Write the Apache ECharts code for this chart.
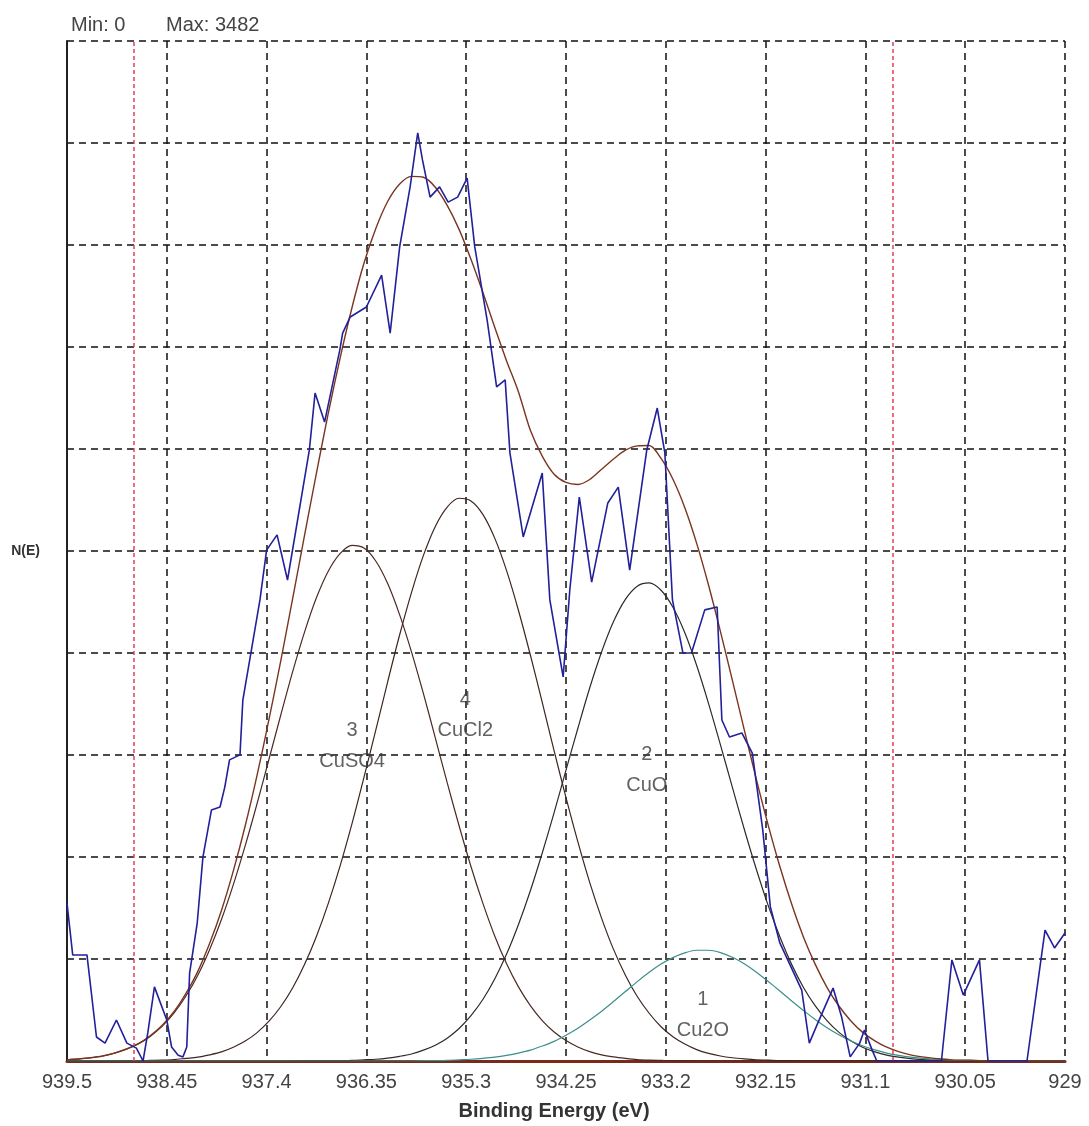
<!DOCTYPE html>
<html>
<head>
<meta charset="utf-8">
<script src="https://cdn.jsdelivr.net/npm/echarts@6/dist/echarts.min.js"></script>
<style>
  html, body { margin: 0; padding: 0; background: #fff; }
  #chart { width: 1089px; height: 1126px; }
</style>
</head>
<body>
<div id="chart"></div>
<script>
// ---------- data ----------
const yMin = 0;
const yMax = 3482;
const xTicks = [939.5, 938.45, 937.4, 936.35, 935.3, 934.25, 933.2, 932.15, 931.1, 930.05, 929];
const refLines = [938.8, 930.81];

// raw spectrum (blue)
const dataE = [939.50,939.44,939.29,939.19,939.10,938.98,938.87,938.77,938.70,938.65,938.58,938.45,938.40,938.33,938.28,938.24,938.21,938.13,938.07,937.98,937.89,937.84,937.79,937.68,937.65,937.56,937.47,937.40,937.29,937.18,936.95,936.89,936.79,936.63,936.60,936.52,936.35,936.19,936.10,936.00,935.89,935.81,935.76,935.68,935.58,935.49,935.39,935.29,935.21,935.08,934.98,934.89,934.84,934.70,934.50,934.42,934.28,934.21,934.11,933.98,933.81,933.70,933.58,933.40,933.29,933.21,933.13,933.02,932.93,932.79,932.66,932.61,932.53,932.40,932.29,932.18,932.10,932.00,931.77,931.69,931.60,931.44,931.35,931.26,931.16,931.11,931.03,930.98,930.30,930.19,930.07,929.90,929.81,929.40,929.21,929.11,929.00];
const dataN = [539,362,362,82,61,140,61,44,0,96,253,140,48,20,14,48,300,471,696,857,867,935,1028,1045,1232,1403,1574,1744,1796,1642,2086,2280,2181,2427,2485,2540,2574,2683,2485,2779,2984,3168,3076,2949,2984,2932,2949,3014,2779,2530,2301,2325,2076,1789,2007,1574,1311,1608,1925,1635,1905,1959,1676,2086,2229,2076,1574,1393,1393,1540,1550,1164,1106,1120,1051,789,526,403,242,61,130,249,150,14,61,106,38,0,0,345,225,345,0,0,447,386,437];

// fitted components, sampled every 0.125 eV
const fitE = [939.5,939.375,939.25,939.125,939.0,938.875,938.75,938.625,938.5,938.375,938.25,938.125,938.0,937.875,937.75,937.625,937.5,937.375,937.25,937.125,937.0,936.875,936.75,936.625,936.5,936.375,936.25,936.125,936.0,935.875,935.75,935.625,935.5,935.375,935.25,935.125,935.0,934.875,934.75,934.625,934.5,934.375,934.25,934.125,934.0,933.875,933.75,933.625,933.5,933.375,933.25,933.125,933.0,932.875,932.75,932.625,932.5,932.375,932.25,932.125,932.0,931.875,931.75,931.625,931.5,931.375,931.25,931.125,931.0,930.875,930.75,930.625,930.5,930.375,930.25,930.125,930.0,929.875,929.75,929.625,929.5,929.375,929.25,929.125,929.0];
const cuSO4 = [4,7,11,17,27,40,58,84,118,163,221,292,380,483,602,735,879,1030,1182,1330,1465,1582,1673,1733,1760,1751,1706,1629,1523,1396,1254,1103,950,803,664,539,427,332,253,189,138,99,70,48,32,21,14,9,5,3,2,1,1,0,0,0,0,0,0,0,0,0,0,0,0,0,0,0,0,0,0,0,0,0,0,0,0,0,0,0,0,0,0,0,0];
const cuCl2 = [0,0,0,0,0,1,1,2,3,5,9,13,21,31,47,68,97,136,186,250,330,426,539,668,812,969,1131,1296,1455,1600,1726,1825,1891,1921,1912,1866,1785,1674,1538,1386,1224,1059,899,748,609,487,381,293,220,163,117,83,58,39,26,17,11,7,4,3,1,1,0,0,0,0,0,0,0,0,0,0,0,0,0,0,0,0,0,0,0,0,0,0,0];
const cuO   = [0,0,0,0,0,0,0,0,0,0,0,0,0,0,0,0,0,0,0,0,1,1,1,1,2,4,6,10,16,24,37,54,78,111,155,210,280,365,466,581,710,848,993,1136,1274,1397,1500,1576,1621,1632,1607,1549,1462,1350,1220,1079,935,792,657,533,424,329,250,187,136,97,68,46,31,20,13,8,5,3,2,1,1,0,0,0,0,0,0,0,0];
const cu2O  = [0,0,0,0,0,0,0,0,0,0,0,0,0,0,0,0,0,0,0,0,0,0,0,0,0,0,0,0,0,0,1,1,2,4,6,9,13,19,27,37,51,67,88,112,140,170,203,237,271,303,331,353,369,378,378,370,354,332,304,272,239,205,172,141,113,89,68,51,38,27,19,13,9,6,4,2,2,1,1,0,0,0,0,0,0];
const envelope = [4,7,11,17,27,41,59,86,121,168,230,305,401,514,649,803,976,1166,1368,1580,1796,2008,2213,2402,2574,2724,2843,2935,2994,3020,3017,2983,2921,2839,2737,2624,2505,2390,2284,2153,2065,2003,1975,1968,1985,2020,2055,2085,2100,2101,2057,1986,1889,1767,1624,1466,1300,1131,965,808,664,535,422,328,249,186,136,97,69,47,32,21,14,9,6,3,3,1,1,0,0,0,0,0,0];

// peak labels: id, name, energy and N(E) of the label centre
const peakIds = ['3', '4', '2', '1'];
const peakNames = ['CuSO4', 'CuCl2', 'CuO', 'Cu2O'];
const peakLabelE = [936.50, 935.31, 933.40, 932.81];
const peakLabelN = [1075, 1181, 993, 157];

// ---------- chart ----------
const FONT = "'Liberation Sans', Arial, sans-serif";
const pairs = (xs, ys) => xs.map((x, i) => [x, ys[i]]);
const chart = echarts.init(document.getElementById('chart'), null, { renderer: 'canvas' });

function comp(name, vals, color, width) {
  return {
    name, type: 'line', data: pairs(fitE, vals), smooth: 0.3, symbol: 'none',
    lineStyle: { color, width }, z: 3, silent: true
  };
}

const option = {
  animation: false,
  backgroundColor: '#ffffff',
  title: [
    {
      text: 'Min: ' + yMin, left: 66, top: 10,
      textStyle: { fontFamily: FONT, fontSize: 20, fontWeight: 'normal', color: '#444' }
    },
    {
      text: 'Max: ' + yMax, left: 161, top: 10,
      textStyle: { fontFamily: FONT, fontSize: 20, fontWeight: 'normal', color: '#444' }
    }
  ],
  grid: { left: 67, right: 24, top: 41, bottom: 65, containLabel: false, outerBoundsMode: 'none' },
  xAxis: {
    type: 'value', inverse: true, min: 929, max: 939.5, interval: 1.05,
    name: 'Binding Energy (eV)', nameLocation: 'middle', nameGap: 40,
    nameTextStyle: { fontFamily: FONT, fontSize: 20, fontWeight: 'bold', color: '#333', padding: [0, 24, 0, 0] },
    axisLine: { show: true, onZero: false, lineStyle: { color: '#7a2a1a', width: 3 } },
    axisTick: { show: false },
    axisLabel: {
      margin: 11, fontFamily: FONT, fontSize: 20, color: '#444',
      formatter: v => {
        const t = xTicks.find(t => Math.abs(t - v) < 1e-6);
        return t === undefined ? String(Math.round(v * 100) / 100) : String(t);
      }
    },
    splitLine: { show: true, lineStyle: { color: '#111', type: [7, 5], width: 1.5 } }
  },
  yAxis: {
    type: 'value', min: yMin, max: yMax, interval: 348.2,
    name: 'N(E)', nameLocation: 'middle', nameGap: 27, nameRotate: 0,
    nameTextStyle: { fontFamily: FONT, fontSize: 14, fontWeight: 'bold', color: '#333' },
    axisLine: { show: true, lineStyle: { color: '#222', width: 2 } },
    axisTick: { show: false },
    axisLabel: { show: false },
    splitLine: { show: true, lineStyle: { color: '#111', type: [7, 5], width: 1.5 } }
  },
  series: [
    {
      name: 'refs', type: 'line', data: [], silent: true,
      markLine: {
        silent: true, symbol: 'none', animation: false,
        label: { show: false },
        lineStyle: { color: '#e0405f', type: [4, 3], width: 1.5 },
        data: refLines.map(x => ({ xAxis: x }))
      }
    },
    comp('CuSO4', cuSO4, '#4a2a22', 1.2),
    comp('CuCl2', cuCl2, '#3e2620', 1.2),
    comp('CuO', cuO, '#2e2a28', 1.2),
    comp('Cu2O', cu2O, '#3b8f8c', 1.2),
    {
      name: 'Envelope', type: 'line', data: pairs(fitE, envelope), smooth: 0.3, symbol: 'none',
      lineStyle: { color: '#7a3520', width: 1.4 }, z: 4, silent: true
    },
    {
      name: 'Data', type: 'line', data: pairs(dataE, dataN), smooth: false, symbol: 'none',
      lineStyle: { color: '#22209a', width: 1.6 }, z: 5, silent: true
    },
    {
      name: 'labels', type: 'scatter', symbolSize: 0, silent: true, z: 6,
      data: peakIds.map((id, i) => ({ value: [peakLabelE[i], peakLabelN[i]], name: id + '\n' + peakNames[i] })),
      label: {
        show: true, position: 'inside', formatter: p => p.name,
        fontFamily: FONT, fontSize: 20, color: '#3a3a3a', lineHeight: 31, align: 'center'
      }
    }
  ]
};
chart.setOption(option);
</script>
</body>
</html>
